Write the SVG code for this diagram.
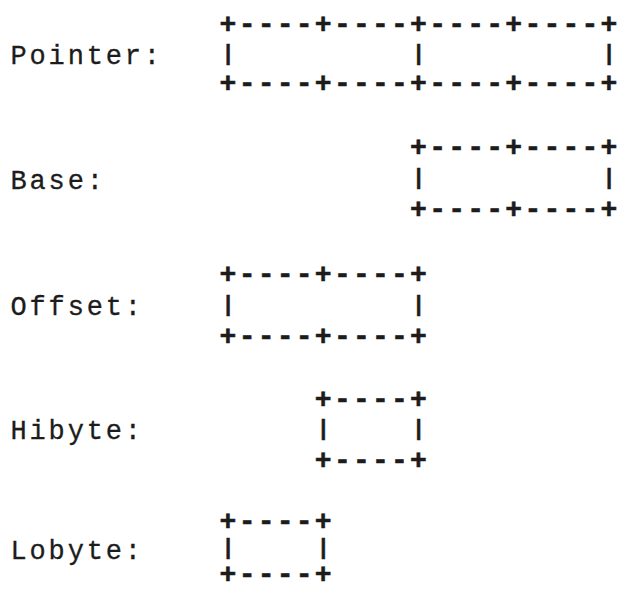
<svg xmlns="http://www.w3.org/2000/svg" width="618" height="592" viewBox="0 0 618 592">
<style>
.lbl{font-family:"Liberation Mono","DejaVu Sans Mono",monospace;font-size:27px;letter-spacing:2.85px;fill:#1c1c1c;stroke:#1c1c1c;stroke-width:0.3}
.edge{font-family:"Liberation Mono","DejaVu Sans Mono",monospace;font-size:28px;font-weight:bold;fill:#1c1c1c;stroke:#1c1c1c;stroke-width:0.6;text-anchor:middle;white-space:pre}
.side{font-family:"Liberation Mono","DejaVu Sans Mono",monospace;font-size:22px;font-weight:bold;fill:#1c1c1c;stroke:#1c1c1c;stroke-width:0.5;text-anchor:middle;white-space:pre}
</style>
<rect width="618" height="592" fill="#ffffff"/>
<g id="connectors"/>
<g id="pointer">
<text class="lbl" x="10.5" y="64">Pointer:</text>
<text class="edge" y="32.6" xml:space="preserve" x="228 247.05 266.1 285.15 304.2 323.25 342.3 361.35 380.4 399.45 418.5 437.55 456.6 475.65 494.7 513.75 532.8 551.85 570.9 589.95 609">+----+----+----+----+</text>
<text class="side" y="59.6" xml:space="preserve" x="228 247.05 266.1 285.15 304.2 323.25 342.3 361.35 380.4 399.45 418.5 437.55 456.6 475.65 494.7 513.75 532.8 551.85 570.9 589.95 609">|         |         |</text>
<text class="edge" y="92.3" xml:space="preserve" x="228 247.05 266.1 285.15 304.2 323.25 342.3 361.35 380.4 399.45 418.5 437.55 456.6 475.65 494.7 513.75 532.8 551.85 570.9 589.95 609">+----+----+----+----+</text>
</g>
<g id="base">
<text class="lbl" x="10.5" y="188.5">Base:</text>
<text class="edge" y="156" xml:space="preserve" x="418.5 437.55 456.6 475.65 494.7 513.75 532.8 551.85 570.9 589.95 609">+----+----+</text>
<text class="side" y="184.1" xml:space="preserve" x="418.5 437.55 456.6 475.65 494.7 513.75 532.8 551.85 570.9 589.95 609">|         |</text>
<text class="edge" y="217.6" xml:space="preserve" x="418.5 437.55 456.6 475.65 494.7 513.75 532.8 551.85 570.9 589.95 609">+----+----+</text>
</g>
<g id="offset">
<text class="lbl" x="10.5" y="315">Offset:</text>
<text class="edge" y="283.3" xml:space="preserve" x="228 247.05 266.1 285.15 304.2 323.25 342.3 361.35 380.4 399.45 418.5">+----+----+</text>
<text class="side" y="310.6" xml:space="preserve" x="228 247.05 266.1 285.15 304.2 323.25 342.3 361.35 380.4 399.45 418.5">|         |</text>
<text class="edge" y="345.3" xml:space="preserve" x="228 247.05 266.1 285.15 304.2 323.25 342.3 361.35 380.4 399.45 418.5">+----+----+</text>
</g>
<g id="hibyte">
<text class="lbl" x="10.5" y="439">Hibyte:</text>
<text class="edge" y="407.6" xml:space="preserve" x="323.25 342.3 361.35 380.4 399.45 418.5">+----+</text>
<text class="side" y="434.6" xml:space="preserve" x="323.25 342.3 361.35 380.4 399.45 418.5">|    |</text>
<text class="edge" y="469.3" xml:space="preserve" x="323.25 342.3 361.35 380.4 399.45 418.5">+----+</text>
</g>
<g id="lobyte">
<text class="lbl" x="10.5" y="559">Lobyte:</text>
<text class="edge" y="529.6" xml:space="preserve" x="228 247.05 266.1 285.15 304.2 323.25">+----+</text>
<text class="side" y="554" xml:space="preserve" x="228 247.05 266.1 285.15 304.2 323.25">|    |</text>
<text class="edge" y="582.8" xml:space="preserve" x="228 247.05 266.1 285.15 304.2 323.25">+----+</text>
</g>
</svg>
